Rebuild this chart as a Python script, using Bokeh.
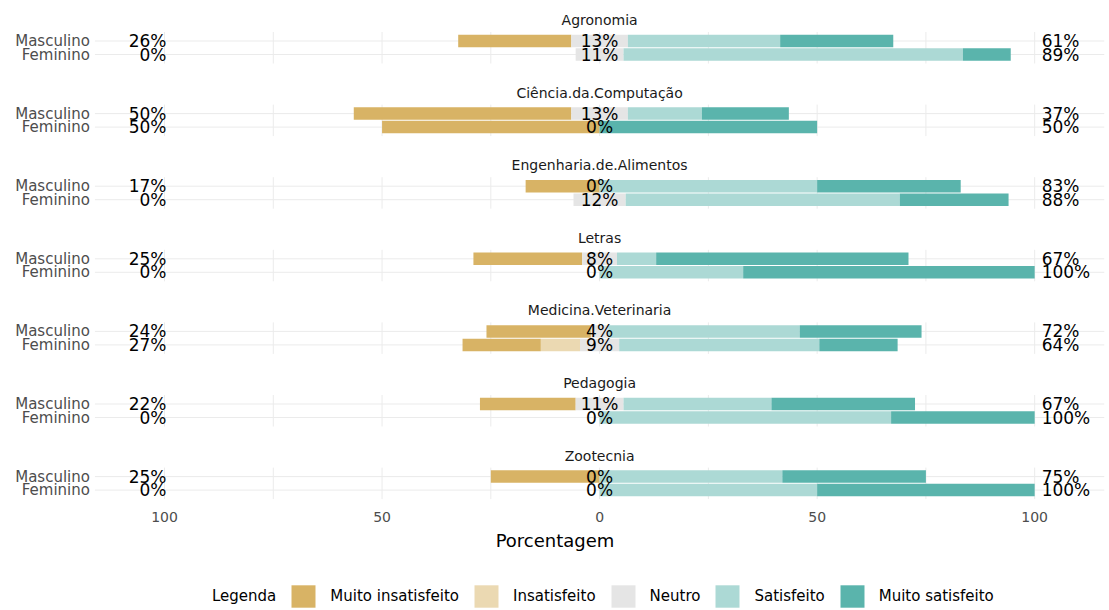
from bokeh.plotting import figure
from bokeh.layouts import column
from bokeh.models import Range1d, FixedTicker, Legend, LegendItem, ColumnDataSource
from bokeh.core.properties import value
from bokeh.embed import file_html
from bokeh.resources import INLINE

# ---------------- data ----------------
cursos = ["Agronomia", "Ciência.da.Computação", "Engenharia.de.Alimentos", "Letras",
          "Medicina.Veterinaria", "Pedagogia", "Zootecnia"]
generos = ["Masculino", "Feminino"]
niveis = ["Muito insatisfeito", "Insatisfeito", "Neutro", "Satisfeito", "Muito satisfeito"]
cores = ["#D8B365", "#EBD9B2", "#E5E5E5", "#ACD9D5", "#5AB4AC"]

# Masculino
muito_insatisfeito_m = [26, 50, 17, 25, 24, 22, 25]
insatisfeito_m = [0, 0, 0, 0, 0, 0, 0]
neutro_m = [13, 13, 0, 8, 4, 11, 0]
satisfeito_m = [35, 17, 50, 9, 44, 34, 42]
muito_satisfeito_m = [26, 20, 33, 58, 28, 33, 33]
# Feminino
muito_insatisfeito_f = [0, 50, 0, 0, 18, 0, 0]
insatisfeito_f = [0, 0, 0, 0, 9, 0, 0]
neutro_f = [11, 0, 12, 0, 9, 0, 0]
satisfeito_f = [78, 0, 63, 33, 46, 67, 50]
muito_satisfeito_f = [11, 50, 25, 67, 18, 33, 50]

ticks = [-100, -50, 0, 50, 100]
grid_x = [-100, -75, -50, -25, 0, 25, 50, 75, 100]

# ---------------- layout constants ----------------
FONT = value("DejaVu Sans")
W = 1109
H_MAIN, H_LEG = 560, 50
X_RANGE = (-137.7, 117.2)
PANEL_X = (-116, 116)
FRAME_BOTTOM = 502
TITLE_Y0 = 19.5
PITCH = 72.6
ROW_OFF = {"Masculino": 21.0, "Feminino": 34.5}
BAR_H = 12.5

serie = {
    "Masculino": [muito_insatisfeito_m, insatisfeito_m, neutro_m, satisfeito_m, muito_satisfeito_m],
    "Feminino": [muito_insatisfeito_f, insatisfeito_f, neutro_f, satisfeito_f, muito_satisfeito_f],
}

p = figure(width=W, height=H_MAIN, output_backend="svg", toolbar_location=None,
           x_range=Range1d(*X_RANGE), y_range=Range1d(FRAME_BOTTOM, 0),
           y_axis_location=None, min_border_left=0, min_border_right=0,
           min_border_top=0, min_border_bottom=H_MAIN - FRAME_BOTTOM)
p.xgrid.visible = False
p.ygrid.visible = False
p.outline_line_color = None
p.background_fill_color = "white"
p.border_fill_color = "white"

# ---------------- build geometry ----------------
bars = {n: dict(y=[], left=[], right=[]) for n in niveis}
hgrid = dict(y=[])
vgrid = dict(x=[], y0=[], y1=[])
titles = dict(x=[], y=[], t=[])
rowlab = dict(x=[], y=[], t=[])
lab_l = dict(x=[], y=[], t=[])
lab_c = dict(x=[], y=[], t=[])
lab_r = dict(x=[], y=[], t=[])

for i, curso in enumerate(cursos):
    ty = TITLE_Y0 + i * PITCH
    titles["x"].append(0); titles["y"].append(ty); titles["t"].append(curso)
    ym = ty + ROW_OFF["Masculino"]
    yf = ty + ROW_OFF["Feminino"]
    for gx in grid_x:
        vgrid["x"].append(gx); vgrid["y0"].append(ym - 9); vgrid["y1"].append(yf + 9)
    for g in generos:
        y = ty + ROW_OFF[g]
        mi, ins, neu, sat, ms = [s[i] for s in serie[g]]
        hgrid["y"].append(y)
        edges = [
            (-neu / 2 - ins - mi, -neu / 2 - ins),
            (-neu / 2 - ins, -neu / 2),
            (-neu / 2, neu / 2),
            (neu / 2, neu / 2 + sat),
            (neu / 2 + sat, neu / 2 + sat + ms),
        ]
        for n, (l, r) in zip(niveis, edges):
            bars[n]["y"].append(y); bars[n]["left"].append(l); bars[n]["right"].append(r)
        rowlab["x"].append(PANEL_X[0]); rowlab["y"].append(y); rowlab["t"].append(g)
        lab_l["x"].append(-100); lab_l["y"].append(y); lab_l["t"].append(f"{round(mi + ins)}%")
        lab_c["x"].append(0); lab_c["y"].append(y); lab_c["t"].append(f"{round(neu)}%")
        lab_r["x"].append(100); lab_r["y"].append(y); lab_r["t"].append(f"{round(sat + ms)}%")

GRID_C = "#EBEBEB"
p.segment(x0=PANEL_X[0], x1=PANEL_X[1], y0="y", y1="y", source=ColumnDataSource(hgrid),
          line_color=GRID_C, line_width=1)
p.segment(x0="x", x1="x", y0="y0", y1="y1", source=ColumnDataSource(vgrid),
          line_color=GRID_C, line_width=1)

sources = {n: ColumnDataSource(bars[n]) for n in niveis}
for n, c in zip(niveis, cores):
    p.hbar(y="y", left="left", right="right", height=BAR_H,
           source=sources[n], fill_color=c, line_color=None)

p.text(x="x", y="y", text="t", source=ColumnDataSource(titles), text_align="center",
       text_baseline="middle", text_font=FONT, text_font_size="14px", text_color="#1A1A1A")
p.text(x="x", y="y", text="t", source=ColumnDataSource(rowlab), text_align="right",
       text_baseline="middle", text_font=FONT, text_font_size="15px", text_color="#4D4D4D",
       x_offset=-5)
p.text(x="x", y="y", text="t", source=ColumnDataSource(lab_l), text_align="right",
       text_baseline="middle", text_font=FONT, text_font_size="17px", text_color="black",
       x_offset=2)
p.text(x="x", y="y", text="t", source=ColumnDataSource(lab_c), text_align="center",
       text_baseline="middle", text_font=FONT, text_font_size="17px", text_color="black")
p.text(x="x", y="y", text="t", source=ColumnDataSource(lab_r), text_align="left",
       text_baseline="middle", text_font=FONT, text_font_size="17px", text_color="black",
       x_offset=7)

# ---------------- axis ----------------
ax = p.xaxis[0]
ax.ticker = FixedTicker(ticks=ticks)
ax.major_label_overrides = {t: str(abs(t)) for t in ticks}
ax.bounds = PANEL_X
ax.axis_line_color = None
ax.major_tick_line_color = None
ax.minor_tick_line_color = None
ax.major_label_text_font = "DejaVu Sans"
ax.major_label_text_font_size = "14px"
ax.major_label_text_color = "#4D4D4D"
ax.major_label_standoff = 3
ax.axis_label = "Porcentagem"
ax.axis_label_text_font = "DejaVu Sans"
ax.axis_label_text_font_size = "18px"
ax.axis_label_text_font_style = "normal"
ax.axis_label_text_color = "black"
ax.axis_label_standoff = 5

# ---------------- legend strip (same series, shown only as legend) ----------------
pl = figure(width=W, height=H_LEG, output_backend="svg", toolbar_location=None,
            x_range=Range1d(*X_RANGE), y_range=Range1d(FRAME_BOTTOM, 0),
            x_axis_location=None, y_axis_location=None,
            min_border_left=0, min_border_right=0, min_border_top=0, min_border_bottom=0)
pl.xgrid.visible = False
pl.ygrid.visible = False
pl.outline_line_color = None
pl.background_fill_color = "white"
pl.border_fill_color = "white"

leg_r = {}
for n, c in zip(niveis, cores):
    leg_r[n] = pl.hbar(y="y", left="left", right="right", height=BAR_H,
                       source=sources[n], fill_color=c, line_color=None, visible=False)
title_r = pl.hbar(y="y", left="left", right="right", height=BAR_H,
                  source=sources[niveis[0]], fill_alpha=0, line_alpha=0, visible=False)

items = [LegendItem(label="Legenda", renderers=[title_r])]
items += [LegendItem(label=n, renderers=[leg_r[n]]) for n in niveis]
legend = Legend(items=items, orientation="horizontal", location=(170, 0),
                padding=0, margin=0, spacing=12, glyph_width=30, glyph_height=28,
                label_standoff=12, label_text_font="DejaVu Sans", label_text_font_size="15px",
                label_text_color="black", border_line_color=None, background_fill_alpha=0,
                click_policy="none")
pl.add_layout(legend)

layout = column(p, pl, spacing=0)
open("out.html", "w").write(file_html(layout, INLINE))
